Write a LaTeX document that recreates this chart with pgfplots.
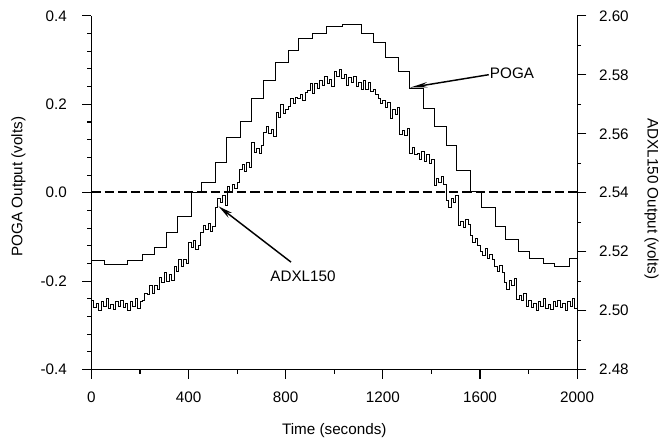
\documentclass[border=0pt]{standalone}
\usepackage{fontspec}
\setmainfont{Liberation Sans}
\usepackage{pgfplots}
\pgfplotsset{compat=1.18}
\usetikzlibrary{arrows.meta}
\newcommand\cf{\fontsize{11.5}{13.8}\selectfont}
\begin{document}
\begin{tikzpicture}
\path (-69pt,-45pt) rectangle (428.25pt,279pt);
\begin{axis}[
 scale only axis, width=366.75pt, height=267pt,
 xmin=0, xmax=2000, ymin=-0.4, ymax=0.4,
 axis x line*=bottom, axis y line*=left,
 axis line style={-, line width=1pt},
 xtick={0,400,800,1200,1600,2000}, minor x tick num=1,
 ytick={-0.4,-0.2,0,0.2,0.4}, minor y tick num=4,
 tick align=outside,
 major tick length=7pt, minor tick length=3pt,
 every tick/.style={black, line width=0.8pt},
 scaled x ticks=false, scaled y ticks=false,
 yticklabel style={xshift=-8pt, /pgf/number format/.cd, fixed, fixed zerofill, precision=1},
 xticklabel style={yshift=-6pt, /pgf/number format/1000 sep={}},
 /pgf/number format/assume math mode=true,
 tick label style={font=\cf},
 label style={font=\cf},
 xlabel={Time (seconds)},
 ylabel={POGA Output (volts)},
 xlabel style={at={(axis description cs:0.5,-0.172)}, anchor=center},
 ylabel style={at={(axis description cs:-0.15,0.517)}, anchor=center},
 clip=false,
]
\addplot[const plot, black, line width=0.7pt] coordinates {
(0,-0.154) (53,-0.163) (147,-0.153) (209,-0.139) (258,-0.124) (311,-0.090) (356,-0.054) (413,0.000) (454,0.024) (510,0.069) (556,0.126) (612,0.162) (657,0.213) (708,0.255) (758,0.294) (813,0.322) (854,0.350) (909,0.361) (966,0.376) (1035,0.380) (1110,0.361) (1162,0.339) (1212,0.307) (1264,0.275) (1310,0.235) (1366,0.190) (1412,0.151) (1461,0.106) (1505,0.050) (1562,0.002) (1607,-0.034) (1665,-0.076) (1706,-0.105) (1759,-0.133) (1804,-0.148) (1861,-0.160) (1906,-0.166) (1967,-0.148) (2000,-0.148)
};
\addplot[black, line width=2pt, dash pattern=on 7pt off 3pt] coordinates {(0,0.002) (2000,0.002)};
\draw[black, line width=1.1pt, -{Stealth[length=13pt,width=4pt]}] (axis cs:1636,0.267) -- (axis cs:1313,0.238);
\node[anchor=west, font=\cf, inner sep=0pt] at (axis cs:1640,0.27) {POGA};
\draw[black, line width=1.1pt, -{Stealth[length=11pt,width=4.5pt]}] (axis cs:822,-0.157) -- (axis cs:524,-0.031);
\node[anchor=center, font=\cf, inner sep=0pt] at (axis cs:871,-0.189) {ADXL150};
\end{axis}
\begin{axis}[
 scale only axis, width=366.75pt, height=267pt,
 xmin=0, xmax=2000, ymin=2.48, ymax=2.60,
 axis x line=none, axis y line*=right,
 axis line style={-, line width=1pt},
 ytick={2.48,2.50,2.52,2.54,2.56,2.58,2.60}, minor y tick num=1,
 tick align=outside,
 major tick length=7pt, minor tick length=3pt,
 every tick/.style={black, line width=0.8pt},
 scaled y ticks=false,
 yticklabel style={xshift=6pt, /pgf/number format/.cd, fixed, fixed zerofill, precision=2},
 /pgf/number format/assume math mode=true,
 tick label style={font=\cf},
 label style={font=\cf},
 ylabel={ADXL150 Output (volts)},
 ylabel style={at={(axis description cs:1.153,0.483)}, anchor=center, rotate=180},
 clip=false,
]
\addplot[const plot, black, line width=0.55pt] coordinates {
(0,2.5035) (10,2.5010) (20,2.5025) (30,2.5002) (40,2.5032) (50,2.5016) (60,2.5040) (70,2.5008) (80,2.5022) (90,2.5004)
(100,2.5030) (110,2.5014) (120,2.5035) (130,2.5010) (140,2.5025) (150,2.5002) (160,2.5032) (170,2.5016) (180,2.5040) (190,2.5008)
(200,2.5032) (210,2.5034) (220,2.5060) (230,2.5054) (240,2.5085) (250,2.5060) (260,2.5085) (270,2.5072) (280,2.5112) (290,2.5096)
(300,2.5130) (310,2.5098) (320,2.5122) (330,2.5104) (340,2.5150) (350,2.5134) (360,2.5175) (370,2.5150) (380,2.5175) (390,2.5162)
(400,2.5232) (410,2.5216) (420,2.5240) (430,2.5208) (440,2.5222) (450,2.5264) (460,2.5290) (470,2.5274) (480,2.5295) (490,2.5270)
(500,2.5285) (510,2.5352) (520,2.5382) (530,2.5366) (540,2.5390) (550,2.5358) (560,2.5422) (570,2.5404) (580,2.5430) (590,2.5414)
(600,2.5435) (610,2.5480) (620,2.5495) (630,2.5472) (640,2.5502) (650,2.5486) (660,2.5570) (670,2.5538) (680,2.5552) (690,2.5534)
(700,2.5560) (710,2.5604) (720,2.5625) (730,2.5600) (740,2.5615) (750,2.5592) (760,2.5672) (770,2.5656) (780,2.5700) (790,2.5668)
(800,2.5682) (810,2.5694) (820,2.5720) (830,2.5704) (840,2.5725) (850,2.5720) (860,2.5735) (870,2.5712) (880,2.5742) (890,2.5746)
(900,2.5770) (910,2.5738) (920,2.5772) (930,2.5754) (940,2.5780) (950,2.5764) (960,2.5795) (970,2.5770) (980,2.5785) (990,2.5762)
(1000,2.5812) (1010,2.5796) (1020,2.5820) (1030,2.5788) (1040,2.5802) (1050,2.5764) (1060,2.5790) (1070,2.5774) (1080,2.5795) (1090,2.5760)
(1100,2.5775) (1110,2.5752) (1120,2.5782) (1130,2.5751) (1140,2.5775) (1150,2.5743) (1160,2.5752) (1170,2.5734) (1180,2.5720) (1190,2.5704)
(1200,2.5715) (1210,2.5690) (1220,2.5705) (1230,2.5652) (1240,2.5682) (1250,2.5666) (1260,2.5690) (1270,2.5598) (1280,2.5612) (1290,2.5594)
(1300,2.5620) (1310,2.5534) (1320,2.5555) (1330,2.5530) (1340,2.5535) (1350,2.5512) (1360,2.5542) (1370,2.5506) (1380,2.5530) (1390,2.5498)
(1400,2.5512) (1410,2.5424) (1420,2.5450) (1430,2.5434) (1440,2.5455) (1450,2.5430) (1460,2.5375) (1470,2.5352) (1480,2.5382) (1490,2.5366)
(1500,2.5390) (1510,2.5288) (1520,2.5302) (1530,2.5284) (1540,2.5310) (1550,2.5294) (1560,2.5255) (1570,2.5230) (1580,2.5245) (1590,2.5222)
(1600,2.5202) (1610,2.5186) (1620,2.5210) (1630,2.5178) (1640,2.5192) (1650,2.5174) (1660,2.5150) (1670,2.5134) (1680,2.5155) (1690,2.5130)
(1700,2.5095) (1710,2.5072) (1720,2.5102) (1730,2.5086) (1740,2.5110) (1750,2.5038) (1760,2.5052) (1770,2.5034) (1780,2.5060) (1790,2.5014)
(1800,2.5035) (1810,2.5010) (1820,2.5025) (1830,2.5002) (1840,2.5032) (1850,2.5016) (1860,2.5040) (1870,2.5008) (1880,2.5022) (1890,2.5004)
(1900,2.5030) (1910,2.5014) (1920,2.5035) (1930,2.5010) (1940,2.5025) (1950,2.5002) (1960,2.5032) (1970,2.5016) (1980,2.5040) (1990,2.5008)
(2000,2.5022)
};
\end{axis}
\end{tikzpicture}
\end{document}
